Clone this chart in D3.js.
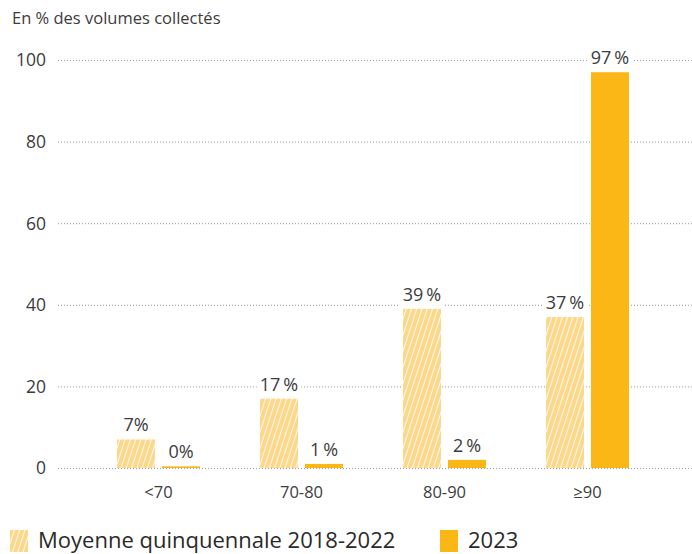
<!DOCTYPE html>
<html>
<head>
<meta charset="utf-8">
<script src="https://cdn.jsdelivr.net/npm/d3@7"></script>
<style>
  body { margin: 0; background: #fff; }
  svg text { font-family: "Open Sans", "Lato", sans-serif; fill: #3c3c3c; }
</style>
</head>
<body>
<div id="chart"></div>
<script>
var categories = ["<70", "70-80", "80-90", "\u226590"];
var seriesNames = ["Moyenne quinquennale 2018-2022", "2023"];
var avgValues = [7, 17, 39, 37];
var values2023 = [0.4, 1, 2, 97];
var yTicks = [0, 20, 40, 60, 80, 100];

var width = 692, height = 554;
var margin = {top: 60, right: 0, bottom: 86, left: 58};

var svg = d3.select("#chart").append("svg")
  .attr("width", width)
  .attr("height", height);

var defs = svg.append("defs");
var pattern = defs.append("pattern")
  .attr("id", "hatch")
  .attr("patternUnits", "userSpaceOnUse")
  .attr("width", 5)
  .attr("height", 5)
  .attr("patternTransform", "rotate(18)");
pattern.append("rect")
  .attr("width", 5).attr("height", 5)
  .attr("fill", "#fdd88a");
pattern.append("line")
  .attr("x1", 2.5).attr("x2", 2.5)
  .attr("y1", 0).attr("y2", 5)
  .attr("stroke", "#fff")
  .attr("stroke-width", 1)
  .attr("stroke-opacity", 0.85);

var x = d3.scaleBand()
  .domain(categories)
  .range([86.5, 658.5])
  .paddingInner(0)
  .paddingOuter(0);

var x1 = d3.scaleBand()
  .domain([0, 1])
  .range([30.5, 113.5])
  .paddingInner(7 / 45);

var y = d3.scaleLinear()
  .domain([0, 100])
  .range([468, 60]);

// title
svg.append("text")
  .attr("x", 12)
  .attr("y", 24)
  .style("font-size", "16.5px")
  .text("En % des volumes collectés");

// gridlines
svg.append("g")
  .selectAll("line")
  .data(yTicks)
  .enter().append("line")
  .attr("x1", margin.left)
  .attr("x2", width)
  .attr("y1", function(d) { return y(d) + 0.5; })
  .attr("y2", function(d) { return y(d) + 0.5; })
  .attr("stroke", "#9a9a9a")
  .attr("stroke-width", 1)
  .attr("stroke-dasharray", "1,2");

// y tick labels
svg.append("g")
  .selectAll("text")
  .data(yTicks)
  .enter().append("text")
  .attr("x", 46)
  .attr("y", function(d) { return y(d); })
  .attr("dy", "0.36em")
  .attr("text-anchor", "end")
  .style("font-size", "17.5px")
  .text(function(d) { return d; });

var groups = svg.append("g")
  .selectAll("g")
  .data(categories)
  .enter().append("g")
  .attr("transform", function(d) { return "translate(" + x(d) + ",0)"; });

function fmt(v) {
  var r = Math.round(v);
  return r + (r >= 10 || r === 2 || r === 1 ? "\u2009%" : "%");
}

[avgValues, values2023].forEach(function(vals, s) {
  groups.append("rect")
    .attr("x", x1(s))
    .attr("width", x1.bandwidth())
    .attr("y", function(d, i) { return y(vals[i]); })
    .attr("height", function(d, i) { return y(0) - y(vals[i]); })
    .attr("fill", s === 0 ? "url(#hatch)" : "#fbb716");

  // label with white background over gridlines
  var lab = groups.append("g");
  lab.append("text")
    .attr("x", x1(s) + x1.bandwidth() / 2)
    .attr("y", function(d, i) { return y(vals[i]) - 8; })
    .attr("text-anchor", "middle")
    .style("font-size", "18px")
    .text(function(d, i) { return fmt(vals[i]); })
    .each(function() {
      var b = this.getBBox();
      d3.select(this.parentNode).insert("rect", "text")
        .attr("x", b.x - 3).attr("y", b.y)
        .attr("width", b.width + 6).attr("height", b.height)
        .attr("fill", "#fff");
    });
});

// category labels
groups.append("text")
  .attr("x", (x1(0) + x1(1) + x1.bandwidth()) / 2)
  .attr("y", 498)
  .attr("text-anchor", "middle")
  .style("font-size", "16.5px")
  .text(function(d) { return d; });

// legend
var legend = svg.append("g");
var legendX = [10, 440];
seriesNames.forEach(function(name, i) {
  legend.append("rect")
    .attr("x", legendX[i])
    .attr("y", 530)
    .attr("width", 18)
    .attr("height", 22)
    .attr("fill", i === 0 ? "url(#hatch)" : "#fbb716");
  legend.append("text")
    .attr("x", legendX[i] + 28)
    .attr("y", 548)
    .style("font-size", "22px")
    .style("fill", "#2a2a2a")
    .text(name);
});
</script>
</body>
</html>
